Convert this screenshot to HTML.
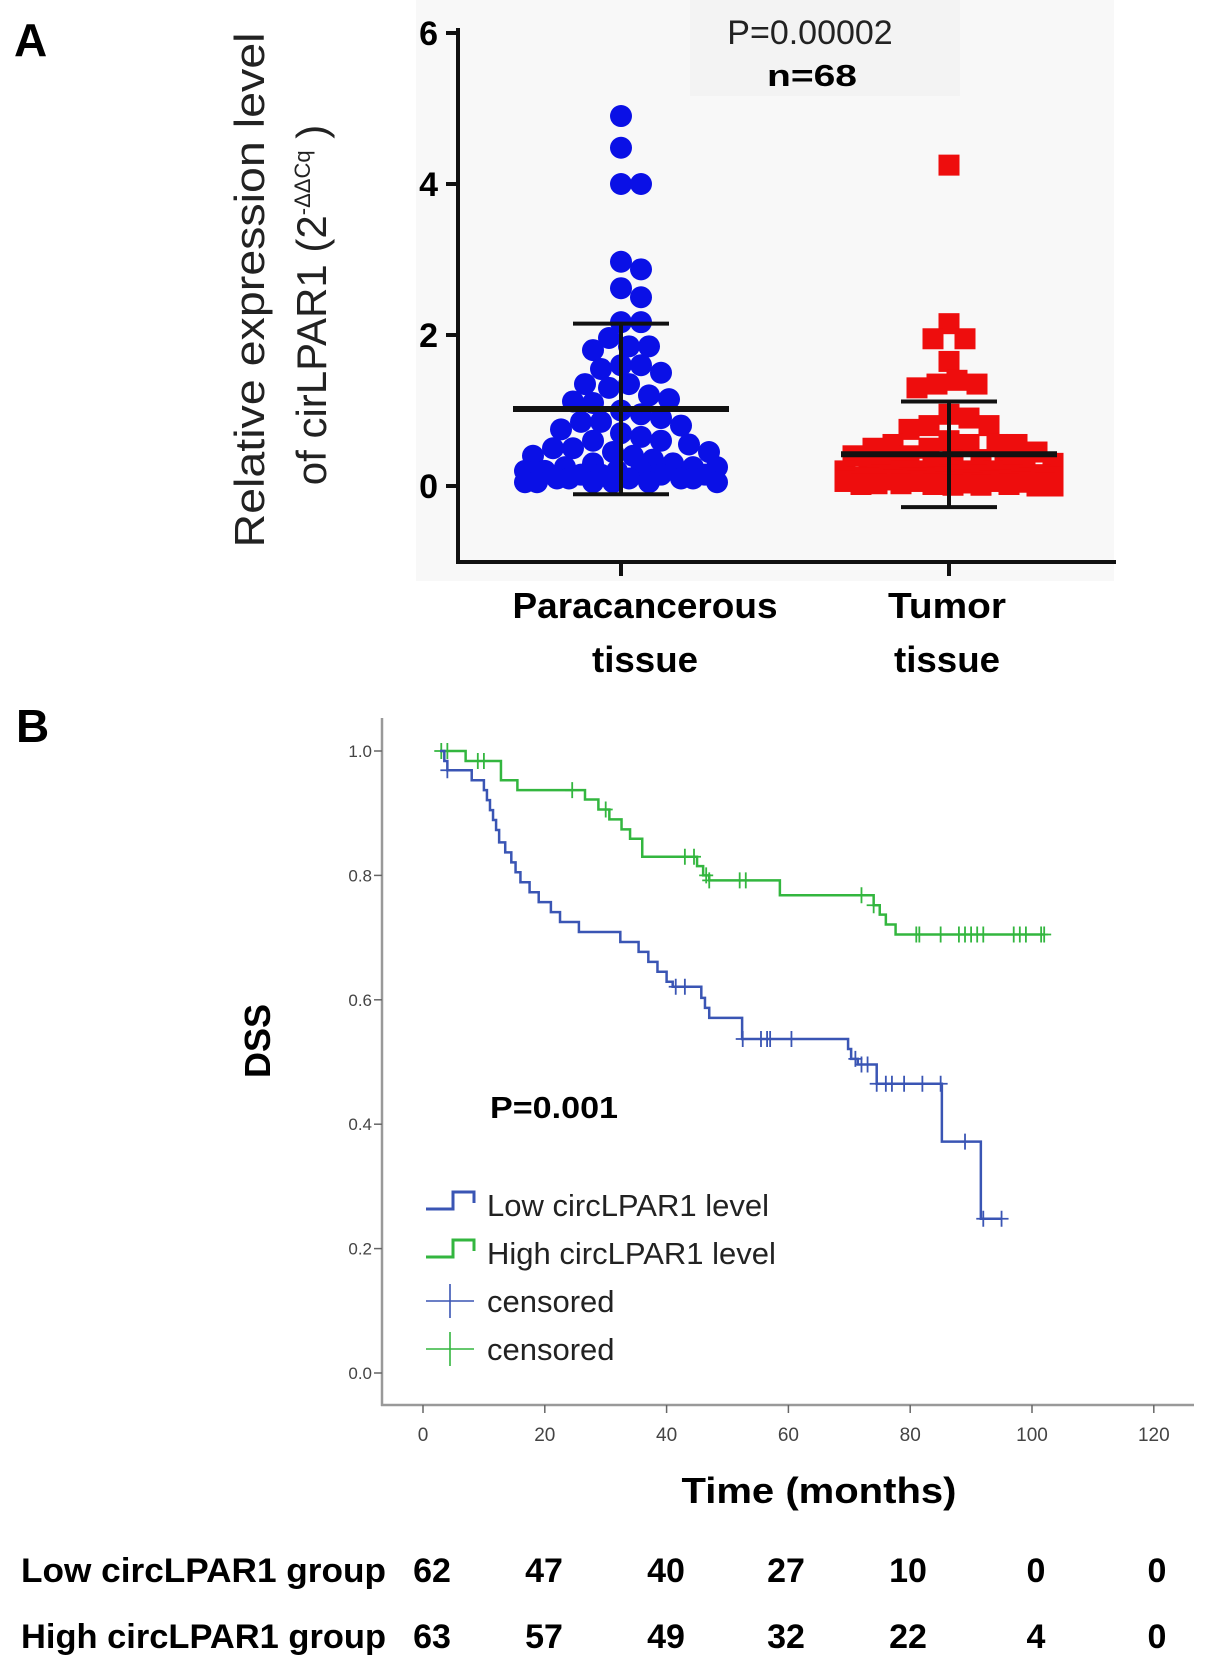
<!DOCTYPE html>
<html><head><meta charset="utf-8"><style>
html,body{margin:0;padding:0;background:#fff;}
svg{display:block;font-family:"Liberation Sans",sans-serif;}
</style></head><body>
<svg id="fig" width="1205" height="1661" viewBox="0 0 1205 1661" xmlns="http://www.w3.org/2000/svg">
<g id="panelA">
  <rect x="416" y="0" width="698" height="581" fill="#f8f8f8"/>
  <rect x="690" y="0" width="270" height="96" fill="#f3f3f3"/>
  <text x="14" y="56" font-size="46" font-weight="bold">A</text>
  <text transform="translate(264,290) rotate(-90)" text-anchor="middle" font-size="42" fill="#222" textLength="515" lengthAdjust="spacingAndGlyphs">Relative expression level</text>
  <text transform="translate(326,305) rotate(-90)" text-anchor="middle" font-size="42" fill="#222">of cirLPAR1 (2<tspan font-size="22" dy="-16">-ΔΔCq</tspan><tspan dy="16"> )</tspan></text>
  <text x="810" y="44" text-anchor="middle" font-size="34" fill="#222">P=0.00002</text>
  <text x="812" y="86" text-anchor="middle" font-size="31" font-weight="bold" textLength="90" lengthAdjust="spacingAndGlyphs">n=68</text>
  <g id="aMarks"></g>
  <g id="aAxes"></g>
  <text x="645" y="618" text-anchor="middle" font-size="36" font-weight="bold" textLength="265" lengthAdjust="spacingAndGlyphs">Paracancerous</text>
  <text x="645" y="672" text-anchor="middle" font-size="36" font-weight="bold" textLength="106" lengthAdjust="spacingAndGlyphs">tissue</text>
  <text x="947" y="618" text-anchor="middle" font-size="36" font-weight="bold" textLength="118" lengthAdjust="spacingAndGlyphs">Tumor</text>
  <text x="947" y="672" text-anchor="middle" font-size="36" font-weight="bold" textLength="106" lengthAdjust="spacingAndGlyphs">tissue</text>
</g>
<g id="panelB">
  <text x="16" y="742" font-size="46" font-weight="bold">B</text>
  <text transform="translate(270,1041) rotate(-90)" text-anchor="middle" font-size="36" font-weight="bold">DSS</text>
  <g id="bAxes"></g>
  <g id="bCurves"></g>
  <text x="490" y="1118" font-size="31" font-weight="bold" textLength="128" lengthAdjust="spacingAndGlyphs">P=0.001</text>
  <g id="legend"></g>
  <text x="819" y="1503" text-anchor="middle" font-size="36" font-weight="bold" textLength="275" lengthAdjust="spacingAndGlyphs">Time (months)</text>
  <g id="riskTable"></g>
</g>
</svg>
<script>
// ---------- Panel A data ----------
const groupsA = ["Paracancerous tissue", "Tumor tissue"];
const paraValues = [4.9,4.48,4.0,4.0,2.97,2.87,2.62,2.5,2.17,2.17,1.96,1.85,1.85,1.8,1.6,1.6,1.55,1.5,1.35,1.35,1.3,1.2,1.15,1.12,1.1,1.0,0.95,0.9,0.85,0.85,0.8,0.75,0.7,0.65,0.6,0.6,0.55,0.5,0.5,0.45,0.45,0.4,0.4,0.35,0.3,0.3,0.25,0.25,0.25,0.2,0.2,0.2,0.2,0.15,0.15,0.15,0.15,0.1,0.1,0.1,0.1,0.1,0.05,0.05,0.05,0.05,0.05,0.05];
const tumorValues = [4.25,2.15,1.95,1.95,1.65,1.4,1.35,1.35,1.3,0.95,0.9,0.8,0.8,0.75,0.6,0.55,0.55,0.55,0.55,0.5,0.5,0.45,0.4,0.4,0.35,0.35,0.3,0.3,0.3,0.25,0.25,0.25,0.2,0.2,0.2,0.2,0.2,0.15,0.15,0.15,0.15,0.15,0.12,0.12,0.12,0.1,0.1,0.1,0.1,0.08,0.08,0.08,0.06,0.06,0.06,0.05,0.05,0.04,0.04,0.03,0.03,0.02,0.02,0.02,0.01,0.01,0.0,0.0];
const meansA = [1.02, 0.42];
const sdsA = [1.13, 0.70];
const yTicksA = [0, 2, 4, 6];

// ---------- Panel B data ----------
const lowTimes = [0,3.5,4,8,10,10.5,11,11.5,12,12.5,13.5,14.5,15.2,16,17.5,19,21,22.5,25.6,32.4,35.4,37,38.5,40,41,45.7,46.3,47,52.4,69.8,70.3,71.4,74.5,85.2,91.6];
const lowSurv  = [1.0,0.984,0.969,0.953,0.937,0.921,0.905,0.889,0.873,0.853,0.837,0.821,0.805,0.789,0.773,0.757,0.741,0.725,0.709,0.693,0.677,0.661,0.645,0.629,0.621,0.603,0.587,0.571,0.537,0.521,0.505,0.496,0.465,0.372,0.248];
const lowEnd = 95;
const lowCensor = [4,41.5,43,52.5,55.5,56.5,57,60.5,71,72,73,74.5,76,77,79,82,85,89,92,95];
const highTimes = [0,7,12.8,15.5,26.6,28.8,30.6,32.6,34,36,45,46,47,58.6,74,75,76,77.6];
const highSurv  = [1.0,0.984,0.953,0.937,0.922,0.906,0.89,0.874,0.859,0.83,0.815,0.8,0.792,0.768,0.752,0.737,0.721,0.705];
const highEnd = 102;
const highCensor = [3,4,9,10,24.5,30,43,44.5,46.5,47,52,53,72,74,81,81.5,85,88,89,90,91,92,97,98,99,101.5,102];
const xTicksB = [0,20,40,60,80,100,120];
const yTicksB = [0.0,0.2,0.4,0.6,0.8,1.0];
const riskLabels = ["Low circLPAR1 group","High circLPAR1 group"];
const riskLow = [62,47,40,27,10,0,0];
const riskHigh = [63,57,49,32,22,4,0];

const NS = "http://www.w3.org/2000/svg";
function mk(tag, attrs, parent){const e=document.createElementNS(NS,tag);for(const k in attrs)e.setAttribute(k,attrs[k]);parent.appendChild(e);return e;}

// ---------- Panel A scales ----------
const yA = v => 486 - v*75.5;
const xA = i => [621, 949][i];
const aAx = document.getElementById('aAxes');
let l = mk('line',{x1:458,y1:28,x2:458,y2:563,stroke:'#111','stroke-width':4},aAx);


l = mk('line',{x1:456,y1:562,x2:1116,y2:562,stroke:'#111','stroke-width':4},aAx);


yTicksA.forEach(v=>{
  const t=mk('line',{x1:446,y1:yA(v),x2:458,y2:yA(v),stroke:'#111','stroke-width':4},aAx);
  
  
  const tx=mk('text',{x:438,y:yA(v)+12,'text-anchor':'end','font-size':34,'font-weight':'bold'},aAx);
  tx.textContent=v;
  
  
});
groupsA.forEach((g,i)=>{
  const t=mk('line',{x1:xA(i),y1:562,x2:xA(i),y2:576,stroke:'#111','stroke-width':4},aAx);
  
  
});

function swarm(vals, cx, r, maxW){
  const sorted=[...vals].sort((a,b)=>b-a);
  const placed=[];
  const cands=[0];
  for(let k=1;k*4<=maxW;k++){cands.push(k*4,-k*4);}
  sorted.forEach(v=>{
    const y=yA(v);
    let best=null,bestD=-1;
    for(const off of cands){
      const x=cx+off;
      let md=Infinity;
      placed.forEach(p=>{const d=Math.hypot(p.x-x,p.y-y);if(d<md)md=d;});
      if(md>=1.8*r){best=x;break;}
      if(md>bestD){bestD=md;best=x;}
    }
    placed.push({x:best,y,v});
  });
  return placed;
}
const aM=document.getElementById('aMarks');
swarm(paraValues,xA(0),11,96).forEach(p=>{
  const c=mk('circle',{cx:p.x,cy:p.y,r:11,fill:'#0a10e6'},aM);
  
  
});
swarm(tumorValues,xA(1),11,104).forEach(p=>{
  const s=mk('rect',{x:p.x-10.5,y:p.y-10.5,width:21,height:21,fill:'#ee0d0d'},aM);
  
  
});
meansA.forEach((m,i)=>{
  const cx=xA(i), top=yA(m+sdsA[i]), bot=yA(m-sdsA[i]);
  const e=mk('line',{x1:cx,y1:top,x2:cx,y2:bot,stroke:'#111','stroke-width':4},aM);
  
  
  const c1=mk('line',{x1:cx-48,y1:top,x2:cx+48,y2:top,stroke:'#111','stroke-width':4},aM);
  
  
  const c2=mk('line',{x1:cx-48,y1:bot,x2:cx+48,y2:bot,stroke:'#111','stroke-width':4},aM);
  
  
  const mn=mk('line',{x1:cx-108,y1:yA(m),x2:cx+108,y2:yA(m),stroke:'#111','stroke-width':6},aM);
  
  
});

// ---------- Panel B scales ----------
const xB = t => 423 + t*6.09;
const yB = s => 1373 - s*622;
const bAx=document.getElementById('bAxes');
l=mk('line',{x1:382,y1:718,x2:382,y2:1406,stroke:'#999','stroke-width':2.5},bAx);


l=mk('line',{x1:381,y1:1405,x2:1194,y2:1405,stroke:'#999','stroke-width':2.5},bAx);


yTicksB.forEach(v=>{
  const t=mk('line',{x1:374,y1:yB(v),x2:382,y2:yB(v),stroke:'#666','stroke-width':1.5},bAx);
  
  
  const tx=mk('text',{x:372,y:yB(v)+6,'text-anchor':'end','font-size':17,fill:'#444'},bAx);
  tx.textContent=v.toFixed(1);
  
  
});
xTicksB.forEach(v=>{
  const t=mk('line',{x1:xB(v),y1:1405,x2:xB(v),y2:1413,stroke:'#666','stroke-width':1.5},bAx);
  
  
  const tx=mk('text',{x:xB(v),y:1441,'text-anchor':'middle','font-size':19,fill:'#444'},bAx);
  tx.textContent=v;
  
  
});
function survAt(times,surv,t){let s=surv[0];for(let i=0;i<times.length;i++){if(times[i]<=t)s=surv[i];}return s;}
function drawKM(times,surv,end,cens,color,name){
  const g=document.getElementById('bCurves');
  let d=`M${xB(times[0]+2.8)},${yB(surv[0])}`;
  for(let i=1;i<times.length;i++){d+=` H${xB(times[i])} V${yB(surv[i])}`;}
  d+=` H${xB(end)}`;
  const p=mk('path',{d,fill:'none',stroke:color,'stroke-width':2.5},g);
  
  
  cens.forEach(t=>{
    const x=xB(t),y=yB(survAt(times,surv,t));
    const c=mk('path',{d:`M${x},${y-8} V${y+8} M${x-7},${y} H${x+7}`,stroke:color,'stroke-width':1.8},g);
    
    
  });
}
drawKM(highTimes,highSurv,highEnd,highCensor,'#33b63f','high-group');
drawKM(lowTimes,lowSurv,lowEnd,lowCensor,'#3a55b4','low-group');

// legend
const lg=document.getElementById('legend');
const legItems=[["Low circLPAR1 level",'#3a55b4','step',1205],["High circLPAR1 level",'#33b63f','step',1253],["censored",'#3a55b4','plus',1301],["censored",'#33b63f','plus',1349]];
legItems.forEach(it=>{
  const [txt,col,kind,y]=it;
  let d = kind==='step' ? `M426,${y+4} H453 V${y-13} H474 V${y-2}` : `M426,${y} H474 M450,${y-17} V${y+17}`;
  const s=mk('path',{d,fill:'none',stroke:col,'stroke-width':kind==='step'?3:1.6},lg);
  
  
  const t=mk('text',{x:487,y:y+11,'font-size':31,fill:'#222'},lg);
  t.textContent=txt;
  
  
});

// risk table
const rt=document.getElementById('riskTable');
const colX=[432,544,666,786,908,1036,1157];
[[riskLabels[0],riskLow,1582],[riskLabels[1],riskHigh,1648]].forEach(r=>{
  const [lab,vals,y]=r;
  const t=mk('text',{x:21,y,'font-size':34,'font-weight':'bold',textLength:365,lengthAdjust:'spacingAndGlyphs'},rt);
  t.textContent=lab;
  
  
  vals.forEach((v,i)=>{
    const n=mk('text',{x:colX[i],y,'text-anchor':'middle','font-size':34,'font-weight':'bold'},rt);
    n.textContent=v;
    
    
  });
});
</script>
</body></html>
